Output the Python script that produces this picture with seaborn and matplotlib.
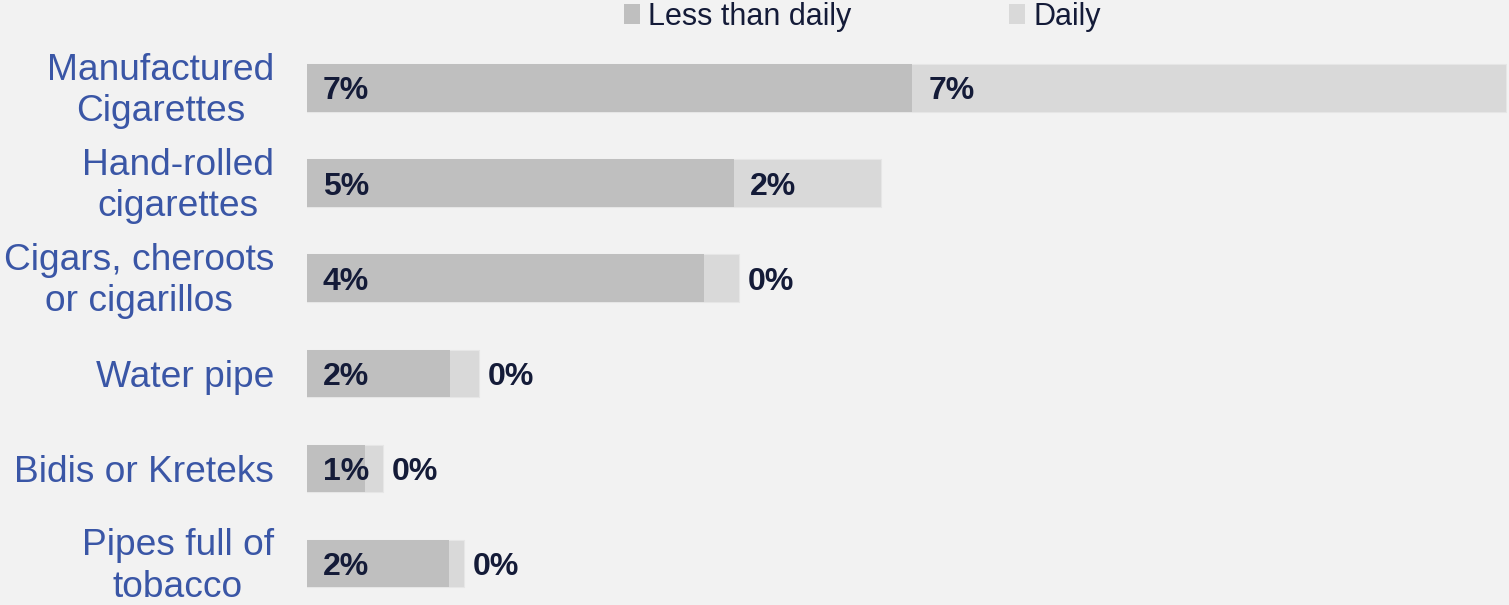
import matplotlib
matplotlib.use("Agg")
import matplotlib.pyplot as plt
import matplotlib.transforms as mtransforms
import seaborn as sns
import pandas as pd
from matplotlib.patches import Patch

# Tobacco product use, share of respondents (%)
categories = [
    "Manufactured\nCigarettes",
    "Hand-rolled\ncigarettes",
    "Cigars, cheroots\nor cigarillos",
    "Water pipe",
    "Bidis or Kreteks",
    "Pipes full of\ntobacco",
]
less_than_daily = [6.72, 4.74, 4.41, 1.59, 0.64, 1.58]
daily = [6.60, 1.64, 0.39, 0.32, 0.20, 0.16]
series_names = ["Less than daily", "Daily"]

BG = "#f2f2f2"
C_LESS = "#bfbfbf"
C_DAILY = "#d9d9d9"
C_CAT = "#3a56a6"
C_VAL = "#141b38"

sns.set_theme(style="white")
plt.rcParams["font.family"] = ["Liberation Sans", "DejaVu Sans"]

df = pd.DataFrame({"category": categories, "less": less_than_daily, "daily": daily})
df["total"] = df["less"] + df["daily"]

W, H = 1509, 605
fig = plt.figure(figsize=(W / 100, H / 100), dpi=100, facecolor=BG)
ax = fig.add_axes([307 / W, 0, 1202 / W, 1])
ax.set_facecolor(BG)

# Stacked bars: full total in the "Daily" colour, "Less than daily" drawn over it
sns.barplot(data=df, x="total", y="category", order=categories, color=C_DAILY,
            width=0.5, saturation=1, errorbar=None, edgecolor="#e6e6e6",
            linewidth=0.8, ax=ax)
sns.barplot(data=df, x="less", y="category", order=categories, color=C_LESS,
            width=0.5, saturation=1, errorbar=None, linewidth=0, ax=ax)

label_kw = dict(textcoords="offset points", ha="left", va="center_baseline",
                fontsize=23, fontweight="bold", color=C_VAL)
for i, (lv, dv) in enumerate(zip(less_than_daily, daily)):
    ax.annotate(f"{lv:.0f}%", xy=(0, i), xytext=(11.5, 0), **label_kw)
    if dv >= 1:
        ax.annotate(f"{dv:.0f}%", xy=(lv, i), xytext=(12, 0), **label_kw)
    else:
        ax.annotate(f"{dv:.0f}%", xy=(lv + dv, i), xytext=(6.5, 0), **label_kw)

ax.set_xlim(0, 13.356)
ax.set_ylim(5.436, -0.925)
ax.set_xticks([])
ax.set_xlabel("")
ax.set_ylabel("")
for s in ax.spines.values():
    s.set_visible(False)
ax.tick_params(axis="y", length=0, pad=23.8, labelsize=26.7, labelcolor=C_CAT)
nudge_down = mtransforms.ScaledTranslation(0, -3 / 100, fig.dpi_scale_trans)
for lbl in ax.get_yticklabels():
    lbl.set_multialignment("center")
    lbl.set_linespacing(1.24)
    if "\n" in lbl.get_text():
        lbl.set_verticalalignment("center")
        lbl.set_transform(lbl.get_transform() + nudge_down)

handles = [Patch(facecolor=C_LESS, edgecolor="none"),
           Patch(facecolor=C_DAILY, edgecolor="none")]
fig.legend(handles=handles, labels=series_names, loc="center",
           bbox_to_anchor=(862 / W, 1 - 17 / H), ncol=2, frameon=False,
           fontsize=22, handlelength=0.55, handleheight=0.62,
           handletextpad=0.25, columnspacing=5.15, labelcolor=C_VAL,
           borderpad=0)

fig.savefig("out.png", dpi=100, facecolor=BG)
